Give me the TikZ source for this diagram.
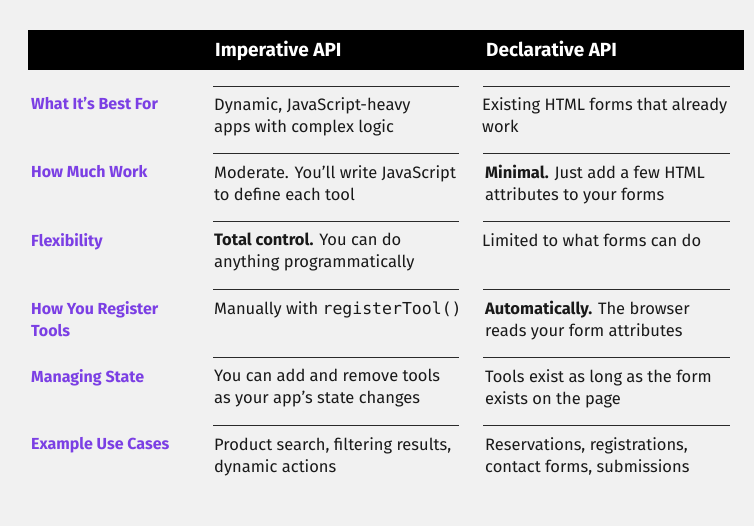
\documentclass[tikz,border=0pt]{standalone}
\usepackage{fontspec}
\setmainfont{Fira Sans}
\setmonofont{DejaVu Sans Mono}
\usetikzlibrary{positioning}
\definecolor{bgGray}{HTML}{F1F1F1}
\definecolor{labPurple}{HTML}{7B3FE4}
\definecolor{ruleGray}{HTML}{2A2A2A}

\begin{document}
\begin{tikzpicture}[x=1pt,y=-1pt,
  cell/.style={anchor=north west,inner sep=0pt,font=\fontsize{16.5}{22}\selectfont,text=black!90,align=left},
  lab/.style={cell,font=\fontsize{16}{22}\selectfont\bfseries,text=labPurple},
  head/.style={anchor=base west,inner sep=0pt,font=\fontsize{19}{22}\selectfont\bfseries,text=white},
  rowline/.style={draw=ruleGray,line width=0.9pt}]
  \fill[bgGray] (0,0) rectangle (754,526);
  \useasboundingbox (0,0) rectangle (754,526);
  \fill[black] (28,30) rectangle (744,70);
  \node[head] (hImp) at (215,57) {Imperative API};
  \node[head] (hDec) at (486,57) {Declarative API};

  % separators
  \foreach \y in {86,153,221,289,357,425} {
    \draw[rowline] (213,\y) -- (459,\y);
    \draw[rowline] (483,\y) -- (730,\y);
  }

  % rows
  \node[lab] (l1) at (31,97) {What It's Best For};
  \node[cell] (i1) at (214,97) {Dynamic, JavaScript-heavy\\apps with complex logic};
  \node[cell] (d1) at (482,97) {Existing HTML forms that already\\work};

  \node[lab] (l2) at (31,165) {How Much Work};
  \node[cell] (i2) at (214,165) {Moderate. You'll write JavaScript\\to define each tool};
  \node[cell] (d2) at (485,165) {\textbf{Minimal.} Just add a few HTML\\attributes to your forms};

  \node[lab] (l3) at (31,233) {Flexibility};
  \node[cell] (i3) at (214,233) {\textbf{Total control.} You can do\\anything programmatically};
  \node[cell] (d3) at (482,233) {Limited to what forms can do};

  \node[lab] (l4) at (31,301) {How You Register\\Tools};
  \node[cell] (i4) at (214,301) {Manually with \texttt{registerTool()}};
  \node[cell] (d4) at (485,301) {\textbf{Automatically.} The browser\\reads your form attributes};

  \node[lab] (l5) at (31,369) {Managing State};
  \node[cell] (i5) at (214,369) {You can add and remove tools\\as your app's state changes};
  \node[cell] (d5) at (485,369) {Tools exist as long as the form\\exists on the page};

  \node[lab] (l6) at (31,437) {Example Use Cases};
  \node[cell] (i6) at (214,437) {Product search, filtering results,\\dynamic actions};
  \node[cell] (d6) at (485,437) {Reservations, registrations,\\contact forms, submissions};
\end{tikzpicture}
\end{document}
